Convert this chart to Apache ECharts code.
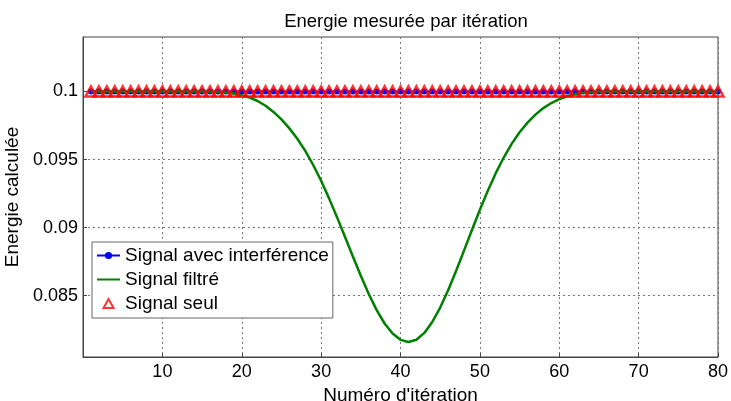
<!DOCTYPE html>
<html>
<head>
<meta charset="utf-8">
<script src="https://cdn.jsdelivr.net/npm/echarts@6/dist/echarts.min.js"></script>
<style>html,body{margin:0;padding:0;background:#fff;}#c{width:731px;height:401px;}</style>
</head>
<body>
<div id="c"></div>
<script>
const iterations = Array.from({length: 80}, (_, i) => i + 1);
const signalAvecInterference = [
  0.1,0.1,0.1,0.1,0.1,0.1,0.1,0.1,0.1,0.1,
  0.1,0.1,0.1,0.1,0.1,0.1,0.1,0.1,0.1,0.1,
  0.1,0.1,0.1,0.1,0.1,0.1,0.1,0.1,0.1,0.1,
  0.1,0.1,0.1,0.1,0.1,0.1,0.1,0.1,0.1,0.1,
  0.1,0.1,0.1,0.1,0.1,0.1,0.1,0.1,0.1,0.1,
  0.1,0.1,0.1,0.1,0.1,0.1,0.1,0.1,0.1,0.1,
  0.1,0.1,0.1,0.1,0.1,0.1,0.1,0.1,0.1,0.1,
  0.1,0.1,0.1,0.1,0.1,0.1,0.1,0.1,0.1,0.1
];
const signalFiltre = [
  0.1,0.1,0.1,0.1,0.1,0.1,0.1,0.1,0.1,0.1,
  0.1,0.1,0.1,0.1,0.1,0.1,0.09997,0.09992,0.09985,0.09973,
  0.09955,0.0993,0.09895,0.0985,0.09795,0.09729,0.09653,0.09564,0.09460,0.09344,
  0.09215,0.09077,0.08933,0.08788,0.08646,0.08513,0.08394,0.08296,0.08222,0.08176,
  0.0816,0.08177,0.08227,0.08307,0.08413,0.0854,0.08682,0.08831,0.08983,0.09131,
  0.09271,0.0940,0.09515,0.09615,0.0970,0.09771,0.0983,0.09878,0.09915,0.09944,
  0.09965,0.0998,0.0999,0.09996,0.09999,0.1,0.1,0.1,0.1,0.1,
  0.1,0.1,0.1,0.1,0.1,0.1,0.1,0.1,0.1,0.1
];
const signalSeul = [
  0.1,0.1,0.1,0.1,0.1,0.1,0.1,0.1,0.1,0.1,
  0.1,0.1,0.1,0.1,0.1,0.1,0.1,0.1,0.1,0.1,
  0.1,0.1,0.1,0.1,0.1,0.1,0.1,0.1,0.1,0.1,
  0.1,0.1,0.1,0.1,0.1,0.1,0.1,0.1,0.1,0.1,
  0.1,0.1,0.1,0.1,0.1,0.1,0.1,0.1,0.1,0.1,
  0.1,0.1,0.1,0.1,0.1,0.1,0.1,0.1,0.1,0.1,
  0.1,0.1,0.1,0.1,0.1,0.1,0.1,0.1,0.1,0.1,
  0.1,0.1,0.1,0.1,0.1,0.1,0.1,0.1,0.1,0.1
];
const yTicks = [0.085, 0.09, 0.095, 0.1];
const seriesNames = ['Signal avec interférence', 'Signal filtré', 'Signal seul'];

const pairs = arr => iterations.map((x, i) => [x, arr[i]]);
const FONT = "'Liberation Sans', Arial, sans-serif";
const chart = echarts.init(document.getElementById('c'), null, {renderer: 'canvas'});
chart.setOption({
  backgroundColor: '#ffffff',
  animation: false,
  title: {
    text: 'Energie mesurée par itération',
    left: 401, top: 7, textAlign: 'center',
    textStyle: {fontFamily: FONT, fontSize: 18.5, fontWeight: 'normal', color: '#000'}
  },
  grid: {left: 83, right: 13, top: 37, bottom: 44, outerBoundsMode: 'none', containLabel: false,
    show: true, borderColor: '#444', borderWidth: 1, backgroundColor: 'transparent'},
  legend: {
    orient: 'vertical', left: 92, top: 242,
    backgroundColor: '#fff', borderColor: '#666', borderWidth: 1,
    padding: [4, 4, 5, 4], itemGap: 5, itemWidth: 23, itemHeight: 9,
    textStyle: {fontFamily: FONT, fontSize: 19, color: '#000'},
    data: [
      {name: seriesNames[0]},
      {name: seriesNames[1], itemStyle: {opacity: 0}},
      {name: seriesNames[2], icon: 'path://M0,0 M23,9 M11.5,0 L16.5,9 L6.5,9 Z'}
    ]
  },
  xAxis: {
    type: 'value', min: 0, max: 80, interval: 10,
    name: "Numéro d'itération", nameLocation: 'middle', nameGap: 19,
    nameTextStyle: {fontFamily: FONT, fontSize: 19, color: '#000'},
    axisLine: {show: true, onZero: false, lineStyle: {color: '#444', width: 1}},
    axisTick: {show: true, inside: true, length: 4, lineStyle: {color: '#444'}},
    axisLabel: {showMinLabel: false, fontFamily: FONT, fontSize: 18, color: '#000', margin: 6},
    splitLine: {show: true, lineStyle: {color: '#777', type: [2, 3], width: 1}}
  },
  yAxis: {
    type: 'value', min: 0.0805, max: 0.104,
    name: 'Energie calculée', nameLocation: 'middle', nameGap: 55,
    nameTextStyle: {fontFamily: FONT, fontSize: 19, color: '#000'},
    axisLine: {show: true, onZero: false, lineStyle: {color: '#444', width: 1}},
    axisTick: {show: true, inside: true, length: 4, customValues: yTicks, lineStyle: {color: '#444'}},
    axisLabel: {customValues: yTicks, fontFamily: FONT, fontSize: 18, color: '#000', margin: 5,
      formatter: v => String(+v.toFixed(4))},
    splitLine: {show: true, lineStyle: {color: '#777', type: [2, 3], width: 1}}
  },
  series: [
    {
      name: seriesNames[0], type: 'line', data: pairs(signalAvecInterference),
      symbol: 'circle', symbolSize: 6, showSymbol: true,
      itemStyle: {color: '#0000ff'}, lineStyle: {color: '#0000ff', width: 2}, z: 2
    },
    {
      name: seriesNames[1], type: 'line', data: pairs(signalFiltre),
      symbol: 'none', smooth: false,
      itemStyle: {color: '#008000'}, lineStyle: {color: '#008000', width: 2.5}, z: 3
    },
    {
      name: seriesNames[2], type: 'scatter', data: pairs(signalSeul),
      symbol: 'triangle', symbolSize: [11, 10],
      itemStyle: {color: 'transparent', borderColor: '#ff0000', borderWidth: 2.5}, z: 4
    }
  ]
});
</script>
</body>
</html>
